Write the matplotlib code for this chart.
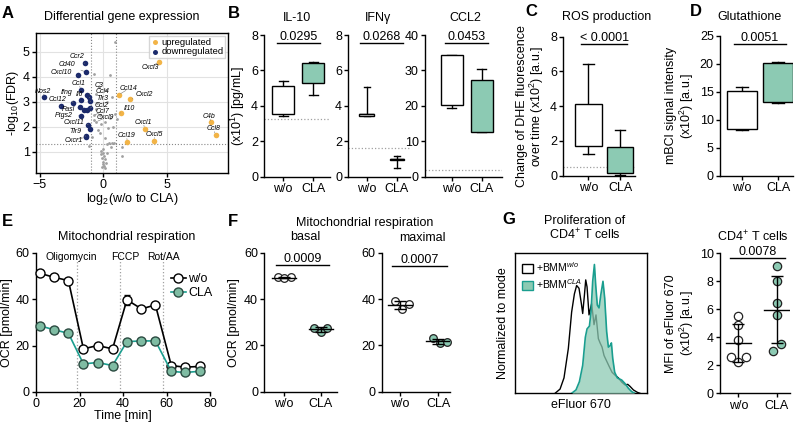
import numpy as np
import matplotlib.pyplot as plt
from matplotlib.patches import Patch
from matplotlib.lines import Line2D

plt.rcParams['font.family'] = ['Liberation Sans', 'DejaVu Sans']
plt.rcParams['font.size'] = 9
plt.rcParams['mathtext.fontset'] = 'custom'
plt.rcParams['mathtext.rm'] = 'Liberation Sans'
plt.rcParams['mathtext.it'] = 'Liberation Sans:italic'
plt.rcParams['axes.linewidth'] = 1.0
plt.rcParams['xtick.major.width'] = 1.0
plt.rcParams['ytick.major.width'] = 1.0
plt.rcParams['xtick.major.size'] = 3
plt.rcParams['ytick.major.size'] = 3

TEAL = '#1a9e8f'
TEAL_FILL = '#8ccab3'
ORANGE = '#f2b447'
NAVY = '#1b2a6b'
GRAY = '#a0a0a0'

# ---------------- data ----------------
# A: volcano plot
up_genes = ['Cxcl3', 'Ccl14', 'Cxcl2', 'Il10', 'Cxcl1', 'Cxcl5', 'Ccl19', 'C4b', 'Ccl8']
up_lfc = [4.34, 1.21, 2.11, 1.35, 3.24, 3.98, 1.88, 8.46, 8.83]
up_fdr = [4.59, 3.28, 3.09, 2.55, 1.92, 1.45, 1.40, 2.17, 1.67]

down_genes = ['Ccr2', 'Cd40', 'Cxcl10', 'Nos2', 'Ccl1', 'C3', 'Ccl4', 'Tlr3', 'Il6', 'Ifng',
              'Ccl12', 'Fasl', '', 'Ccl2', '', 'Ptgs2', 'Cxcl11', '', 'Tlr9', 'Cxcr1']
down_lfc = [-1.48, -1.38, -2.03, -4.69, -1.77, -1.25, -1.12, -1.05, -1.80, -2.38,
            -3.37, -1.85, -1.54, -1.05, -1.27, -1.77, -1.19, -1.06, -1.38, -1.38]
down_fdr = [4.53, 4.19, 4.05, 3.17, 3.48, 3.25, 3.17, 3.01, 3.08, 2.96,
            2.81, 2.77, 2.68, 2.75, 2.65, 2.44, 2.08, 1.91, 1.62, 1.58]

ns_lfc = [0.95, -0.75, 0.5, -0.35, 0.2, -0.6, 0.7, 0.3, -0.5, 0.9, -0.6, 0.55, -0.3,
          -0.7, 0.1, -0.15, 0.35, -0.4, 0.75, -0.9, 1.05, 0.15, 0.45, 0.65, 0.85, 0.25,
          1.5, -0.25, 0.0, -0.05, 0.05, -0.1, 0.1, 0.0, -0.05, 0.05, 0.1, -0.1, 0.2,
          -0.2, -0.2, 0.3, -1.1, 1.5, 0.6, -0.75, -0.55]
ns_fdr = [5.4, 4.1, 4.05, 3.6, 3.45, 3.3, 3.2, 3.0, 2.95, 2.5, 2.7, 2.35, 2.45,
          2.25, 2.2, 2.1, 1.95, 1.85, 2.0, 1.6, 2.3, 1.55, 1.35, 1.35, 1.35, 1.3,
          1.2, 1.75, 1.1, 0.95, 0.85, 0.75, 0.7, 0.6, 0.5, 0.45, 0.35, 0.4, 0.55,
          0.9, 1.05, 0.95, 1.25, 0.85, 1.2, 2.45, 2.2]
ns_labels = {45: 'Ccl7', 46: 'Cxcl9'}

# label text positions (x, y in data units)
label_pos = {
    'Ccr2': (-2.1, 4.8), 'Cd40': (-2.85, 4.47), 'Cxcl10': (-3.3, 4.17), 'Nos2': (-4.74, 3.41),
    'Ccl1': (-1.93, 3.72), 'C3': (-0.33, 3.66), 'Ccl4': (-0.1, 3.42), 'Il6': (-1.85, 3.28),
    'Ifng': (-2.9, 3.37), 'Tlr3': (-0.1, 3.12), 'Ccl12': (-3.64, 3.08), 'Ccl2': (-0.15, 2.86),
    'Fasl': (-2.77, 2.68), 'Ptgs2': (-3.1, 2.44), 'Cxcl11': (-2.3, 2.15), 'Tlr9': (-2.17, 1.8),
    'Cxcr1': (-2.3, 1.47), 'Ccl7': (-0.1, 2.62), 'Cxcl9': (0.15, 2.36),
    'Cxcl3': (3.69, 4.37), 'Ccl14': (1.96, 3.51), 'Cxcl2': (3.21, 3.28), 'Il10': (2.03, 2.75),
    'Cxcl1': (3.14, 2.17), 'Cxcl5': (4.03, 1.68), 'Ccl19': (1.82, 1.64), 'C4b': (8.33, 2.41),
    'Ccl8': (8.65, 1.91),
}

# B: cytokines, five-number summaries (min, q1, median, q3, max)
il10_wo = [3.42, 3.53, 4.09, 5.13, 5.40]
il10_cla = [4.64, 5.28, 5.98, 6.42, 6.50]
ifng_wo = [3.40, 3.45, 3.52, 3.55, 5.09]
ifng_cla = [0.50, 0.95, 0.98, 0.99, 1.17]
ccl2_wo = [19.3, 20.2, 28.5, 34.3, 34.4]
ccl2_cla = [12.5, 12.7, 15.6, 27.3, 30.4]
lod_il10, lod_ifng, lod_ccl2 = 3.25, 1.62, 1.9

# C: ROS, D: glutathione
ros_wo = [1.27, 1.70, 2.32, 4.11, 6.4]
ros_cla = [0.06, 0.13, 0.52, 1.65, 2.63]
lod_ros = 0.5
gsh_wo = [8.1, 8.3, 10.86, 15.2, 15.8]
gsh_cla = [13.0, 13.2, 16.7, 20.1, 20.3]

# E: seahorse time course
time_min = [1.9, 8.3, 14.9, 21.8, 28.3, 35.2, 41.8, 48.5, 54.9, 62.2, 68.3, 75.2]
ocr_wo = [51.1, 49.4, 48.0, 18.6, 20.0, 18.6, 39.7, 35.8, 37.5, 11.4, 10.7, 11.0]
ocr_wo_sem = [0.6, 0.5, 0.6, 0.8, 0.5, 0.5, 2.2, 0.8, 0.9, 0.4, 0.3, 0.3]
ocr_cla = [28.5, 26.8, 25.3, 12.1, 12.7, 11.4, 21.7, 22.0, 22.0, 8.9, 8.4, 8.9]
ocr_cla_sem = [0.5, 0.5, 0.5, 0.4, 0.4, 0.4, 1.2, 0.6, 0.6, 0.3, 0.3, 0.3]
injections = [19.0, 38.5, 58.5]
injection_names = ['Oligomycin', 'FCCP', 'Rot/AA']
injection_label_x = [16.2, 41.0, 58.8]

# F: basal / maximal OCR
basal_wo = [49.5, 49.0, 49.3]
basal_cla = [27.6, 25.6, 27.6]
max_wo = [39.2, 35.8, 37.7]
max_cla = [23.0, 20.9, 21.6]
jit3 = [-0.18, 0.0, 0.18]

# G: histogram (x in channel units 0-100, normalized to mode)
hist_wo_x = [30.4, 34.2, 37.2, 40.5, 43.0, 45.1, 46.8, 48.6, 50.4, 51.4, 52.7, 53.7, 54.7,
             56.2, 58.2, 60.0, 61.5, 63.3, 64.6, 66.1, 67.6, 69.6, 71.6, 73.7, 75.9, 78.5,
             81.0, 83.5, 85.6, 87.3, 89.9, 92.9, 94.9]
hist_wo_y = [0.0, 0.03, 0.11, 0.32, 0.58, 0.71, 0.77, 0.75, 0.64, 0.57, 0.70, 0.81, 0.76,
             0.56, 0.64, 0.49, 0.56, 0.39, 0.36, 0.33, 0.27, 0.23, 0.19, 0.15, 0.13, 0.11,
             0.08, 0.06, 0.064, 0.05, 0.024, 0.007, 0.0]
hist_cla_x = [43.0, 46.3, 48.9, 51.4, 53.4, 54.7, 56.5, 57.7, 59.0, 60.3, 61.3, 62.5, 63.8,
              65.1, 66.8, 68.1, 69.6, 70.9, 72.2, 73.2, 74.2, 75.7, 77.7, 81.0, 83.5, 86.1,
              88.6, 91.1]
hist_cla_y = [0.0, 0.024, 0.083, 0.20, 0.40, 0.46, 0.48, 0.58, 0.80, 0.92, 0.77, 0.63, 0.61,
              0.70, 0.80, 0.68, 0.44, 0.33, 0.34, 0.36, 0.25, 0.15, 0.11, 0.095, 0.07, 0.036,
              0.012, 0.0]

# G: MFI
mfi_wo = [5.5, 4.85, 3.8, 2.6, 2.6, 2.25]
mfi_cla = [9.1, 8.0, 6.45, 5.6, 3.55, 3.05]
jit_wo = [0, 0, 0, -0.2, 0.2, 0]
jit_cla = [0, 0, 0, 0, 0.12, -0.1]

# ---------------- figure ----------------
W, H = 800, 426
fig = plt.figure(figsize=(8, 4.26), dpi=100)


def px_axes(l, t, r, b):
    return fig.add_axes([l / W, 1 - b / H, (r - l) / W, (b - t) / H])


def ftext(x, y, s, **kw):
    kw.setdefault('ha', 'center')
    kw.setdefault('va', 'center')
    fig.text(x / W, 1 - y / H, s, **kw)


def cat_axes(ax, xlim, ylim, yticks):
    ax.spines[['top', 'right']].set_visible(False)
    ax.set_xlim(*xlim)
    ax.set_ylim(*ylim)
    ax.set_yticks(yticks)
    ax.set_xticks([0, 1])
    ax.set_xticklabels(['w/o', 'CLA'])
    ax.tick_params(pad=1.5)


def sig(ax, y, s):
    ax.plot([-0.22, 1.22], [y, y], color='k', lw=1.0, clip_on=False)
    ax.text(0.5, y, s, ha='center', va='bottom')


def boxes(ax, wo, cla, width):
    stats = []
    for v in (wo, cla):
        stats.append(dict(whislo=v[0], q1=v[1], med=v[2], q3=v[3], whishi=v[4], fliers=[]))
    bp = ax.bxp(stats, positions=[0, 1], widths=width, patch_artist=True,
                showfliers=False, capwidths=width * 0.4, manage_ticks=False,
                boxprops=dict(lw=1.0, edgecolor='k'),
                medianprops=dict(color='k', lw=1.0),
                whiskerprops=dict(color='k', lw=1.0),
                capprops=dict(color='k', lw=1.0))
    bp['boxes'][0].set_facecolor('white')
    bp['boxes'][1].set_facecolor(TEAL_FILL)
    for b in bp['boxes']:
        b.set_zorder(3)


def dots(ax, wo, cla, jw, jc, mw=0.64, cw=0.3, ms=5.5):
    for i, (v, j, fc) in enumerate(((wo, jw, 'white'), (cla, jc, TEAL_FILL))):
        v = np.array(v)
        ax.plot(i + np.array(j), v, 'o', ms=ms, mfc=fc, mec='#222222', mew=0.9,
                zorder=3, clip_on=False)
        m, sd = v.mean(), v.std(ddof=1)
        ax.plot([i - mw / 2, i + mw / 2], [m, m], color='k', lw=1.0, zorder=4)
        ax.errorbar(i, m, yerr=sd, color='k', lw=1.0, capsize=cw * 14, capthick=1.0, zorder=4)


# ---- A ----
axA = px_axes(36, 33, 228, 173)
axA.set_xlim(-5.3, 9.8)
axA.set_ylim(0.15, 5.75)
axA.set_xticks([-5, 0, 5])
axA.set_yticks([1, 2, 3, 4, 5])
axA.grid(True, color='#e2e2e2', lw=0.8)
axA.set_axisbelow(True)
axA.axvline(-1, color='#888888', ls=':', lw=0.8)
axA.axvline(1, color='#888888', ls=':', lw=0.8)
axA.axhline(1.3, color='#888888', ls=':', lw=0.8)
axA.scatter(ns_lfc, ns_fdr, s=4, color=GRAY, zorder=2, lw=0)
axA.scatter(up_lfc, up_fdr, s=16, color=ORANGE, zorder=3, lw=0, label='upregulated')
axA.scatter(down_lfc, down_fdr, s=16, color=NAVY, zorder=3, lw=0, label='downregulated')
for names, xs, ys in ((up_genes, up_lfc, up_fdr), (down_genes, down_lfc, down_fdr)):
    for g, x, y in zip(names, xs, ys):
        if g:
            axA.annotate(g, (x, y), xytext=label_pos[g], fontsize=5, style='italic',
                         ha='center', va='center', zorder=4,
                         arrowprops=dict(arrowstyle='-', color='#777777', lw=0.4,
                                         shrinkA=2, shrinkB=1.5))
for i, g in ns_labels.items():
    axA.annotate(g, (ns_lfc[i], ns_fdr[i]), xytext=label_pos[g], fontsize=5, style='italic',
                 ha='center', va='center',
                 arrowprops=dict(arrowstyle='-', color='#777777', lw=0.4, shrinkA=2, shrinkB=1))
axA.legend(loc='upper right', fontsize=6.8, frameon=True, handletextpad=0.1,
           borderpad=0.2, labelspacing=0.05, handlelength=1.0, borderaxespad=0.3,
           edgecolor='#cccccc', fancybox=False, markerscale=0.9)
axA.set_xlabel('log$_2$(w/o to CLA)', labelpad=0)
axA.set_ylabel('-log$_{10}$(FDR)', labelpad=1)
axA.tick_params(pad=1.5)

# ---- B ----
axB1 = px_axes(264.3, 35, 330, 176.7)
cat_axes(axB1, (-0.63, 1.56), (0, 8), [0, 2, 4, 6, 8])
axB1.plot([-0.63, 1.56], [lod_il10] * 2, color=GRAY, ls=':', lw=0.9)
boxes(axB1, il10_wo, il10_cla, 0.74)
sig(axB1, 7.55, '0.0295')
axB1.set_ylabel('(x10$^1$) [pg/mL]', labelpad=3)

axB2 = px_axes(348.3, 35, 410, 176.7)
cat_axes(axB2, (-0.61, 1.44), (0, 8), [0, 2, 4, 6, 8])
axB2.plot([-0.61, 1.44], [lod_ifng] * 2, color=GRAY, ls=':', lw=0.9)
boxes(axB2, ifng_wo, ifng_cla, 0.48)
sig(axB2, 7.55, '0.0268')

axB3 = px_axes(425, 35, 502, 176.7)
cat_axes(axB3, (-0.89, 1.68), (0, 40), [0, 10, 20, 30, 40])
axB3.plot([-0.89, 1.68], [lod_ccl2] * 2, color=GRAY, ls=':', lw=0.9)
boxes(axB3, ccl2_wo, ccl2_cla, 0.74)
sig(axB3, 37.7, '0.0453')

# ---- C ----
axC = px_axes(563.3, 36.7, 635, 175.7)
cat_axes(axC, (-0.79, 1.47), (0, 8), [0, 2, 4, 6, 8])
axC.plot([-0.79, 1.47], [lod_ros] * 2, color=GRAY, ls=':', lw=0.9)
boxes(axC, ros_wo, ros_cla, 0.84)
sig(axC, 7.6, '< 0.0001')
axC.set_ylabel('Change of DHE fluorescence\nover time (x10$^2$) [a.u.]', labelpad=3,
               linespacing=1.0)

# ---- D ----
axD = px_axes(720, 36, 793, 175.7)
cat_axes(axD, (-0.59, 1.40), (0, 25), [0, 5, 10, 15, 20, 25])
boxes(axD, gsh_wo, gsh_cla, 0.82)
sig(axD, 23.6, '0.0051')
axD.set_ylabel('mBCl signal intensity\n(x10$^2$) [a.u.]', labelpad=3, linespacing=1.0)

# ---- E ----
axE = px_axes(36, 252.7, 210, 392)
axE.spines[['top', 'right']].set_visible(False)
axE.set_xlim(0, 80)
axE.set_ylim(0, 60)
axE.set_xticks([0, 20, 40, 60, 80])
axE.set_yticks([0, 20, 40, 60])
for x in injections:
    axE.axvline(x, color=GRAY, ls=':', lw=0.9, zorder=1)
for x, s in zip(injection_label_x, injection_names):
    axE.text(x, 58.3, s, ha='center', va='center', fontsize=7.5)
axE.errorbar(time_min, ocr_wo, yerr=ocr_wo_sem, color='k', lw=1.2, marker='o', ms=6.5,
             mfc='white', mec='k', mew=1.0, capsize=2, label='w/o', zorder=3, clip_on=False)
axE.errorbar(time_min, ocr_cla, yerr=ocr_cla_sem, color=TEAL, lw=1.2, marker='o', ms=6.5,
             mfc='#7fbca3', mec='#2a4a40', mew=1.0, capsize=2, label='CLA', zorder=3,
             clip_on=False)
hE = [Line2D([], [], color='k', lw=1.2, marker='o', ms=6.5, mfc='white', mec='k'),
      Line2D([], [], color=TEAL, lw=1.2, marker='o', ms=6.5, mfc='#7fbca3', mec='#2a4a40')]
axE.legend(hE, ['w/o', 'CLA'], loc='upper right', bbox_to_anchor=(1.05, 0.9), frameon=False,
           handlelength=1.2, handletextpad=0.2, labelspacing=0.2, borderpad=0)
axE.set_xlabel('Time [min]', labelpad=0)
axE.set_ylabel('OCR [pmol/min]', labelpad=2)
axE.tick_params(pad=1.5)

# ---- F ----
axF1 = px_axes(264.3, 252.7, 337, 391.7)
cat_axes(axF1, (-0.54, 1.44), (0, 60), [0, 20, 40, 60])
dots(axF1, basal_wo, basal_cla, jit3, jit3)
sig(axF1, 54.7, '0.0009')
axF1.set_ylabel('OCR [pmol/min]', labelpad=3)

axF2 = px_axes(381.7, 252.7, 450, 391.7)
cat_axes(axF2, (-0.48, 1.30), (0, 60), [0, 20, 40, 60])
dots(axF2, max_wo, max_cla, [-0.13, 0.04, 0.24], [-0.15, 0.04, 0.23])
sig(axF2, 54.3, '0.0007')

# ---- G histogram ----
axG1 = px_axes(515, 253.3, 646.7, 393.3)
axG1.set_xlim(0, 100)
axG1.set_ylim(0, 1.0)
axG1.set_xticks([])
axG1.set_yticks([])
axG1.plot(hist_wo_x, hist_wo_y, color='k', lw=1.0, zorder=2)
axG1.fill_between(hist_cla_x, hist_cla_y, color=TEAL_FILL, alpha=0.75, lw=0, zorder=3)
axG1.plot(hist_cla_x, hist_cla_y, color=TEAL, lw=1.2, zorder=4)
hG = [Patch(facecolor='white', edgecolor='k', lw=1.0),
      Patch(facecolor=TEAL_FILL, edgecolor=TEAL, lw=1.0)]
axG1.legend(hG, ['+BMM$^{w/o}$', '+BMM$^{CLA}$'], loc='upper left', frameon=False,
            fontsize=7.5, handlelength=1.0, handleheight=1.0, handletextpad=0.3,
            labelspacing=0.25, borderaxespad=0.3)
axG1.set_xlabel('eFluor 670', labelpad=4)
axG1.set_ylabel('Normalized to mode', labelpad=4)

# ---- G MFI ----
axG2 = px_axes(720, 253.3, 790, 393.3)
cat_axes(axG2, (-0.48, 1.35), (0, 10), [0, 2, 4, 6, 8, 10])
dots(axG2, mfi_wo, mfi_cla, jit_wo, jit_cla, mw=0.64, cw=0.3, ms=6)
sig(axG2, 9.64, '0.0078')
axG2.set_ylabel('MFI of eFluor 670\n(x10$^2$) [a.u.]', labelpad=3, linespacing=1.0)

# ---- titles and panel letters ----
ftext(122, 17, 'Differential gene expression')
ftext(296.7, 18, 'IL-10')
ftext(378, 18, 'IFNγ')
ftext(465, 18, 'CCL2')
ftext(607, 17, 'ROS production')
ftext(750, 17, 'Glutathione')
ftext(127, 237, 'Mitochondrial respiration')
ftext(365, 223, 'Mitochondrial respiration')
ftext(305, 237, 'basal')
ftext(422, 238, 'maximal')
ftext(585, 229, 'Proliferation of\nCD4$^{+}$ T cells', linespacing=1.0)
ftext(753, 237, 'CD4$^{+}$ T cells')

for s, x, y in (('A', 2, 13), ('B', 228, 13), ('C', 525, 11), ('D', 690, 11),
                ('E', 2, 222), ('F', 228, 222), ('G', 502, 220)):
    ftext(x, y, s, ha='left', fontsize=12, fontweight='bold')

fig.savefig('out.png', dpi=100)
